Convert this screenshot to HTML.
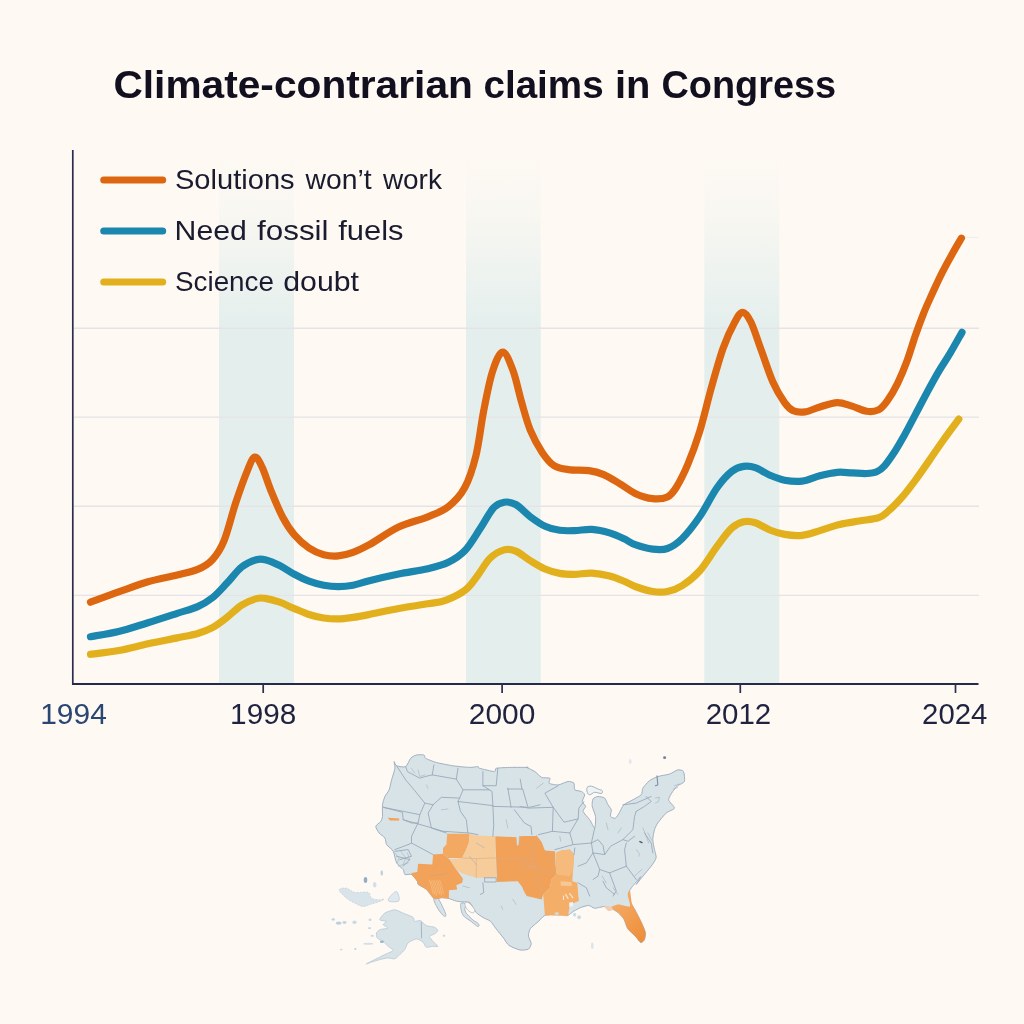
<!DOCTYPE html>
<html lang="en"><head><meta charset="utf-8"><title>Climate-contrarian claims in Congress</title>
<style>
html,body{margin:0;padding:0;background:#fef9f3;}
body{width:1024px;height:1024px;overflow:hidden;}
svg{display:block;font-family:"Liberation Sans",sans-serif;}
</style></head><body>
<svg width="1024" height="1024" viewBox="0 0 1024 1024">
<defs>
<linearGradient id="bandg" x1="0" y1="150" x2="0" y2="684" gradientUnits="userSpaceOnUse">
<stop offset="0" stop-color="#e4efed" stop-opacity="0"/>
<stop offset="0.12" stop-color="#e4efed" stop-opacity="0.22"/>
<stop offset="0.33" stop-color="#e4efed" stop-opacity="1"/>
<stop offset="1" stop-color="#e4efed" stop-opacity="1"/>
</linearGradient>
</defs>
<rect width="1024" height="1024" fill="#fef9f3"/>

<rect x="219" y="150" width="75.0" height="534" fill="url(#bandg)"/>
<rect x="466" y="150" width="74.7" height="534" fill="url(#bandg)"/>
<rect x="704.3" y="150" width="75.0" height="534" fill="url(#bandg)"/>
<line x1="74" x2="979" y1="328.2" y2="328.2" stroke="#e5e3e5" stroke-width="1.4"/>
<line x1="74" x2="979" y1="417.1" y2="417.1" stroke="#e5e3e5" stroke-width="1.4"/>
<line x1="74" x2="979" y1="506.2" y2="506.2" stroke="#e5e3e5" stroke-width="1.4"/>
<line x1="74" x2="979" y1="595.4" y2="595.4" stroke="#e5e3e5" stroke-width="1.4"/>
<line x1="965" x2="979" y1="237.4" y2="237.4" stroke="#f1eeea" stroke-width="1.2"/>
<text y="97.8" font-size="38" font-weight="bold" fill="#12101f"><tspan x="113.43" textLength="359.44" lengthAdjust="spacingAndGlyphs">Climate-contrarian</tspan> <tspan x="483.48" textLength="120.17" lengthAdjust="spacingAndGlyphs">claims</tspan> <tspan x="614.9" textLength="35.42" lengthAdjust="spacingAndGlyphs">in</tspan> <tspan x="661.5" textLength="174.63" lengthAdjust="spacingAndGlyphs">Congress</tspan></text>
<line x1="103.8" x2="162.6" y1="180" y2="180" stroke="#dd6610" stroke-width="7.2" stroke-linecap="round"/>
<text y="189.2" font-size="28" fill="#1a1b2e"><tspan x="174.96" textLength="119.68" lengthAdjust="spacingAndGlyphs">Solutions</tspan> <tspan x="305.51" textLength="66.07" lengthAdjust="spacingAndGlyphs">won’t</tspan> <tspan x="382.9" textLength="59.0" lengthAdjust="spacingAndGlyphs">work</tspan></text>
<line x1="103.8" x2="162.6" y1="231" y2="231" stroke="#1b86ae" stroke-width="7.2" stroke-linecap="round"/>
<text y="240.2" font-size="28" fill="#1a1b2e"><tspan x="174.64" textLength="72.26" lengthAdjust="spacingAndGlyphs">Need</tspan> <tspan x="257.0" textLength="71.57" lengthAdjust="spacingAndGlyphs">fossil</tspan> <tspan x="338.2" textLength="65.3" lengthAdjust="spacingAndGlyphs">fuels</tspan></text>
<line x1="103.8" x2="162.6" y1="282" y2="282" stroke="#e2b01c" stroke-width="7.2" stroke-linecap="round"/>
<text y="291.2" font-size="28" fill="#1a1b2e"><tspan x="175.01" textLength="98.96" lengthAdjust="spacingAndGlyphs">Science</tspan> <tspan x="283.22" textLength="75.74" lengthAdjust="spacingAndGlyphs">doubt</tspan></text>
<path d="M90.5,654.3C95.2,653.7 109.0,652.2 118.6,650.5C128.2,648.8 138.1,645.9 147.9,643.8C157.7,641.7 168.9,639.6 177.2,637.9C185.5,636.2 191.8,635.2 197.7,633.5C203.6,631.8 207.5,630.4 212.4,627.7C217.3,625.0 222.1,621.2 227.0,617.4C231.9,613.6 236.8,608.2 241.7,605.1C246.6,602.0 252.4,599.7 256.3,598.6C260.2,597.5 261.2,597.8 265.1,598.4C269.0,599.0 274.8,600.5 279.7,602.2C284.6,603.9 289.5,606.6 294.4,608.6C299.3,610.6 304.1,612.9 309.0,614.5C313.9,616.1 318.8,617.3 323.7,618.0C328.6,618.7 333.4,619.0 338.3,618.9C343.2,618.8 347.8,618.1 353.0,617.4C358.2,616.7 361.7,616.0 369.3,614.5C376.9,613.0 388.8,610.3 398.6,608.5C408.4,606.7 420.0,605.2 427.9,603.8C435.8,602.4 439.9,602.5 446.2,600.1C452.5,597.7 460.6,593.7 465.8,589.6C471.0,585.5 473.5,580.9 477.5,575.7C481.5,570.5 485.6,562.6 490.0,558.3C494.4,554.0 499.8,551.1 504.1,549.9C508.4,548.7 511.4,549.3 515.8,551.1C520.2,552.9 525.5,557.8 530.4,560.8C535.3,563.8 540.2,566.9 545.1,569.0C550.0,571.1 554.8,572.5 559.7,573.4C564.6,574.3 569.0,574.3 574.4,574.3C579.8,574.2 586.1,572.8 592.0,573.1C597.9,573.4 604.2,574.6 609.6,576.0C615.0,577.4 619.9,579.5 624.2,581.3C628.5,583.0 630.5,584.8 635.2,586.5C640.0,588.2 647.3,590.7 652.7,591.5C658.1,592.3 662.5,592.5 667.4,591.5C672.3,590.5 676.6,589.1 682.0,585.7C687.4,582.3 693.7,577.6 699.6,571.0C705.5,564.4 711.8,553.3 717.2,546.1C722.6,538.9 727.4,532.0 731.8,528.0C736.2,524.0 739.7,522.7 743.6,521.8C747.5,520.9 750.9,521.3 755.3,522.7C759.7,524.1 765.0,528.0 769.9,530.0C774.8,532.0 779.2,533.5 784.6,534.4C790.0,535.3 796.3,535.9 802.2,535.3C808.1,534.7 813.6,532.4 819.8,530.6C826.0,528.8 833.0,526.1 839.6,524.5C846.2,522.9 852.7,522.1 859.2,521.0C865.7,519.9 873.8,519.4 878.7,517.7C883.6,516.0 884.6,514.3 888.5,510.9C892.4,507.5 897.6,502.4 902.1,497.2C906.6,492.0 911.2,485.8 915.8,479.6C920.4,473.4 925.0,466.6 929.5,460.1C934.0,453.6 938.2,447.3 943.1,440.5C948.0,433.7 956.2,422.7 958.8,419.1" fill="none" stroke="#e2b01c" stroke-width="7.2" stroke-linecap="round" stroke-linejoin="round"/>
<path d="M90.5,636.7C95.2,635.8 109.0,633.8 118.6,631.5C128.2,629.2 138.1,625.7 147.9,622.7C157.7,619.7 168.9,616.0 177.2,613.3C185.5,610.6 191.8,609.2 197.7,606.6C203.6,604.0 207.5,601.7 212.4,597.8C217.3,593.9 222.1,588.2 227.0,583.1C231.9,578.0 236.8,570.9 241.7,567.0C246.6,563.1 252.4,560.9 256.3,559.7C260.2,558.5 261.2,558.7 265.1,559.7C269.0,560.7 274.8,563.1 279.7,565.5C284.6,567.9 289.5,571.7 294.4,574.3C299.3,576.9 304.1,579.3 309.0,581.1C313.9,582.9 318.8,584.3 323.7,585.2C328.6,586.1 333.4,586.6 338.3,586.6C343.2,586.6 347.8,586.2 353.0,585.2C358.2,584.2 361.7,582.6 369.3,580.7C376.9,578.8 388.8,576.0 398.6,574.0C408.4,572.0 419.6,570.7 427.9,568.7C436.2,566.7 442.2,565.2 448.4,562.2C454.6,559.2 459.7,556.1 465.0,550.5C470.3,544.9 475.5,535.6 480.2,528.5C484.9,521.4 489.4,512.4 493.4,508.0C497.4,503.6 500.4,502.8 504.1,502.2C507.8,501.6 511.4,502.1 515.8,504.5C520.2,506.9 525.5,513.2 530.4,516.8C535.3,520.4 540.2,524.0 545.1,526.2C550.0,528.5 554.8,529.6 559.7,530.3C564.6,531.0 569.0,530.8 574.4,530.6C579.8,530.5 586.1,529.0 592.0,529.4C597.9,529.8 604.2,531.3 609.6,532.9C615.0,534.5 619.9,536.8 624.2,538.8C628.5,540.8 630.5,543.0 635.2,544.7C640.0,546.4 647.3,548.5 652.7,549.1C658.1,549.7 662.5,550.2 667.4,548.5C672.3,546.8 676.6,544.1 682.0,538.8C687.4,533.5 693.7,525.3 699.6,516.8C705.5,508.2 711.8,495.1 717.2,487.5C722.6,479.9 727.4,474.9 731.8,471.4C736.2,467.9 739.7,467.0 743.6,466.4C747.5,465.8 750.9,466.1 755.3,467.6C759.7,469.1 765.0,473.1 769.9,475.2C774.8,477.3 779.2,479.2 784.6,480.2C790.0,481.2 796.3,481.8 802.2,481.1C808.1,480.4 813.9,477.3 819.8,475.8C825.6,474.3 831.9,472.8 837.3,472.3C842.7,471.8 847.1,472.7 852.0,472.9C856.9,473.1 862.5,473.7 866.6,473.5C870.7,473.3 873.7,473.1 876.7,471.8C879.7,470.5 881.6,469.1 884.5,465.9C887.4,462.6 891.0,457.3 894.3,452.3C897.6,447.3 900.6,441.9 904.1,435.7C907.6,429.5 911.4,422.1 915.2,414.9C919.0,407.7 923.0,399.9 926.9,392.7C930.8,385.5 934.7,378.2 938.6,371.6C942.5,365.0 946.4,359.4 950.3,352.8C954.2,346.2 960.0,335.7 962.0,332.3" fill="none" stroke="#1b86ae" stroke-width="7.2" stroke-linecap="round" stroke-linejoin="round"/>
<path d="M90.5,602.2C95.2,600.5 109.0,595.3 118.6,591.9C128.2,588.5 138.1,584.5 147.9,581.7C157.7,578.9 168.9,577.0 177.2,574.9C185.5,572.8 191.8,571.9 197.7,569.4C203.6,566.9 208.0,564.5 212.4,559.7C216.8,554.9 220.2,550.1 224.1,540.6C228.0,531.1 231.9,514.2 235.8,502.5C239.7,490.8 244.3,477.9 247.5,470.3C250.7,462.7 252.4,457.6 254.8,457.1C257.2,456.6 259.5,461.8 262.2,467.4C264.9,473.0 267.6,482.5 271.0,490.8C274.4,499.1 278.8,509.9 282.7,517.2C286.6,524.5 290.0,529.7 294.4,534.8C298.8,539.9 304.1,544.7 309.0,548.0C313.9,551.3 318.8,553.4 323.7,554.7C328.6,556.0 333.4,556.3 338.3,555.9C343.2,555.5 347.8,554.3 353.0,552.4C358.2,550.5 361.7,548.9 369.3,544.7C376.9,540.5 388.8,531.8 398.6,527.1C408.4,522.5 419.6,520.2 427.9,516.8C436.2,513.4 442.2,511.5 448.4,506.6C454.5,501.7 460.2,496.1 464.8,487.5C469.4,478.9 472.9,468.0 476.0,455.3C479.1,442.6 480.9,425.2 483.6,411.3C486.3,397.4 489.2,381.7 492.4,371.8C495.6,361.9 499.2,352.4 502.6,352.2C506.0,351.9 509.7,361.9 512.9,370.3C516.1,378.7 518.8,392.6 521.7,402.6C524.6,412.6 527.0,422.1 530.4,430.4C533.8,438.7 538.3,446.5 542.2,452.4C546.1,458.2 549.5,462.6 553.9,465.5C558.3,468.4 562.6,468.8 568.5,469.6C574.4,470.5 583.1,469.8 589.0,470.6C594.9,471.4 598.3,472.3 603.7,474.6C609.1,476.9 616.0,481.5 621.3,484.6C626.5,487.7 630.0,491.0 635.2,493.4C640.4,495.8 647.3,498.1 652.7,498.7C658.1,499.3 663.5,498.8 667.4,496.9C671.3,495.0 672.8,493.0 676.2,487.5C679.6,482.0 684.0,473.4 687.9,464.1C691.8,454.8 695.7,444.5 699.6,431.8C703.5,419.1 707.4,401.8 711.3,387.9C715.2,374.0 719.2,359.3 723.1,348.3C727.0,337.3 731.5,328.0 734.8,322.0C738.1,316.0 740.0,312.3 742.7,312.3C745.4,312.3 747.8,315.8 750.9,322.0C754.0,328.2 757.4,339.8 761.1,349.8C764.8,359.8 769.0,373.2 772.9,382.0C776.8,390.8 781.2,397.8 784.6,402.6C788.0,407.4 790.0,409.2 793.4,410.8C796.8,412.4 800.7,412.5 805.1,411.9C809.5,411.3 814.4,408.6 819.8,407.0C825.2,405.4 831.9,402.8 837.3,402.6C842.7,402.5 847.1,404.7 852.0,406.1C856.9,407.6 862.2,410.7 866.6,411.3C871.0,411.9 875.0,411.6 878.4,409.9C881.8,408.2 883.9,405.5 887.1,401.1C890.3,396.7 894.3,390.0 897.6,383.3C900.9,376.6 904.1,368.9 907.0,361.0C909.9,353.1 912.5,343.9 915.2,336.0C917.9,328.1 920.7,320.6 923.4,313.8C926.1,307.0 928.7,301.4 931.6,295.0C934.5,288.6 937.8,281.4 940.9,275.1C944.0,268.9 946.9,263.6 950.3,257.5C953.7,251.3 959.5,241.4 961.4,238.2" fill="none" stroke="#dd6610" stroke-width="7.2" stroke-linecap="round" stroke-linejoin="round"/>
<line x1="72.8" x2="72.8" y1="150" y2="684.8" stroke="#2b2e50" stroke-width="1.7"/>
<line x1="72" x2="978.5" y1="684" y2="684" stroke="#262a4b" stroke-width="1.8"/>
<line x1="263.2" x2="263.2" y1="684" y2="693" stroke="#2b2e50" stroke-width="1.7"/>
<line x1="502.1" x2="502.1" y1="684" y2="693" stroke="#2b2e50" stroke-width="1.7"/>
<line x1="740.3" x2="740.3" y1="684" y2="693" stroke="#2b2e50" stroke-width="1.7"/>
<line x1="955.5" x2="955.5" y1="684" y2="693" stroke="#2b2e50" stroke-width="1.7"/>
<text x="40.22" y="724.2" font-size="28.8" fill="#2a4672" textLength="66.6" lengthAdjust="spacingAndGlyphs">1994</text>
<text x="230.14" y="724.2" font-size="28.8" fill="#1f2340" textLength="66.11" lengthAdjust="spacingAndGlyphs">1998</text>
<text x="468.86" y="724.2" font-size="28.8" fill="#1f2340" textLength="66.49" lengthAdjust="spacingAndGlyphs">2000</text>
<text x="705.68" y="724.2" font-size="28.8" fill="#1f2340" textLength="65.56" lengthAdjust="spacingAndGlyphs">2012</text>
<text x="922.08" y="724.2" font-size="28.8" fill="#1f2340" textLength="65.23" lengthAdjust="spacingAndGlyphs">2024</text>
<g id="usmap">
<path d="M394.1,761.6C394.3,761.3 395.2,765.2 396.6,765.8C397.9,766.4 404.0,767.5 405.7,766.6C407.3,765.7 409.4,759.7 410.7,758.3C411.9,756.9 414.9,755.4 416.5,755.0C418.0,754.6 422.9,754.6 424.0,755.0C425.0,755.4 424.2,757.4 425.6,758.3C427.1,759.2 433.2,761.6 436.4,762.5C439.6,763.3 449.1,765.2 453.0,765.8C456.9,766.4 466.7,767.3 469.6,767.4C472.5,767.5 476.7,766.5 477.9,766.6C479.1,766.7 477.6,767.7 479.6,768.3C481.5,768.8 492.6,771.6 494.5,771.6C496.4,771.6 494.2,768.7 496.2,768.3C498.1,767.8 507.4,767.5 511.1,767.4C514.8,767.3 525.9,767.4 527.7,767.4C529.5,767.4 525.8,766.9 526.6,767.4C527.5,767.9 533.2,770.4 534.9,771.6C536.7,772.7 539.8,776.6 541.6,777.4C543.3,778.2 549.0,777.5 549.9,778.2C550.8,778.9 548.1,782.4 549.1,783.2C550.0,784.0 556.0,785.1 558.2,784.9C560.4,784.7 566.3,781.7 568.1,781.5C570.0,781.3 573.2,782.2 574.0,783.2C574.7,784.2 573.9,788.9 574.8,789.8C575.7,790.8 580.3,790.9 581.4,791.5C582.6,792.1 584.6,793.7 584.7,794.8C584.8,796.0 582.2,800.1 582.3,801.5C582.4,802.8 585.5,805.3 585.6,806.4C585.7,807.6 582.6,809.9 583.1,811.4C583.6,813.0 588.4,817.8 589.7,819.7C591.1,821.7 594.0,828.4 594.7,828.0C595.4,827.6 595.8,818.9 595.5,816.4C595.2,813.9 592.5,808.5 592.2,806.4C591.9,804.4 592.4,800.1 593.0,799.0C593.7,797.8 596.7,796.6 598.0,796.5C599.4,796.4 603.5,797.2 604.7,798.1C605.8,799.1 607.2,803.4 608.0,804.8C608.8,806.1 611.0,808.4 611.3,809.8C611.6,811.1 610.0,815.4 610.5,816.4C611.0,817.4 614.4,818.6 615.5,818.1C616.5,817.6 618.6,813.8 619.6,812.3C620.6,810.7 622.2,806.2 623.8,804.8C625.3,803.3 630.9,801.0 632.9,799.8C634.9,798.6 640.0,796.2 641.2,794.8C642.4,793.5 641.9,789.8 642.9,788.2C643.8,786.5 647.7,782.1 649.5,780.7C651.2,779.4 655.5,777.3 657.8,776.6C660.1,775.8 667.1,774.8 669.4,774.1C671.7,773.3 676.1,770.2 677.7,769.9C679.4,769.6 682.8,770.2 683.5,771.6C684.3,772.9 685.0,779.9 684.4,781.5C683.7,783.2 679.1,784.5 677.7,785.7C676.4,786.9 673.8,789.9 672.7,791.5C671.7,793.2 668.4,797.9 668.6,799.8C668.8,801.7 674.7,806.6 674.4,808.1C674.1,809.7 668.0,811.3 666.1,813.1C664.2,814.8 659.1,821.1 657.8,823.0C656.4,825.0 655.1,827.8 654.5,829.7C653.9,831.6 652.8,837.3 652.8,839.6C652.8,842.0 654.1,847.5 654.5,849.6C654.9,851.7 656.5,856.0 656.1,857.9C655.7,859.8 652.7,864.1 651.2,866.2C649.6,868.3 644.6,874.0 642.9,876.2C641.1,878.3 636.5,884.4 636.2,884.5C636.0,884.5 641.3,876.3 640.7,876.7C640.2,877.1 632.8,885.9 631.4,887.8C630.0,889.8 628.8,891.7 628.7,893.4C628.5,895.1 629.8,900.7 630.5,902.7C631.3,904.6 634.0,907.9 635.2,910.1C636.3,912.3 639.5,918.6 640.7,921.2C641.9,923.8 644.9,930.2 645.4,932.4C645.8,934.5 645.0,938.6 644.4,939.8C643.9,941.0 641.8,943.0 640.7,942.6C639.6,942.1 636.7,937.7 635.2,936.1C633.6,934.5 629.0,930.6 627.7,928.7C626.4,926.7 625.1,921.2 624.0,919.4C622.9,917.5 620.0,914.2 618.5,912.9C616.9,911.6 612.5,909.0 611.0,908.2C609.5,907.5 606.8,906.5 605.5,906.4C604.2,906.3 601.2,907.1 599.9,907.3C598.6,907.5 595.6,908.5 594.3,908.2C593.0,908.0 590.3,905.6 588.8,905.5C587.2,905.4 583.1,906.7 581.3,907.3C579.6,908.0 575.2,910.3 573.9,911.0C572.6,911.8 571.1,913.3 570.2,913.8C569.3,914.4 568.0,915.8 566.5,915.7C565.0,915.6 559.2,913.0 557.2,912.9C555.3,912.8 551.3,914.4 549.8,914.7C548.3,915.1 545.5,914.9 544.2,915.7C542.9,916.4 540.3,919.7 538.7,921.2C537.0,922.8 531.5,926.9 530.3,928.7C529.1,930.4 528.3,934.3 528.5,936.1C528.6,937.8 531.2,942.0 531.2,943.5C531.2,945.0 529.8,948.3 528.5,949.1C527.2,949.8 522.4,950.4 520.1,950.0C517.8,949.6 510.9,946.8 509.0,945.4C507.0,944.0 504.9,939.9 503.4,937.9C501.9,936.0 497.5,930.6 496.0,928.7C494.5,926.7 491.9,922.5 490.4,921.2C488.9,919.9 484.7,918.6 483.0,917.5C481.3,916.4 477.1,913.7 475.6,912.0C474.1,910.2 471.5,903.9 470.0,902.7C468.5,901.5 464.6,902.1 463.0,901.9C461.4,901.7 458.0,901.5 456.3,901.1C454.7,900.7 450.6,899.0 448.9,898.6C447.1,898.2 442.9,897.7 441.4,897.8C439.8,897.9 436.5,899.4 435.6,899.4C434.6,899.4 434.2,898.9 433.1,897.8C432.0,896.6 428.2,891.0 426.4,889.5C424.7,887.9 419.2,885.4 418.1,884.5C417.1,883.5 418.1,882.3 417.3,881.2C416.5,880.0 413.0,875.3 411.5,874.5C410.1,873.7 405.8,875.1 404.9,874.5C403.9,873.9 404.2,870.9 403.2,869.5C402.2,868.2 397.7,865.0 396.6,862.9C395.4,860.8 394.4,853.4 393.2,851.3C392.1,849.1 387.6,846.2 386.6,844.6C385.6,843.1 385.8,839.3 384.9,838.0C384.1,836.6 380.2,834.4 379.1,833.0C378.1,831.7 375.6,827.7 375.8,826.4C376.0,825.0 380.0,822.5 380.8,821.4C381.6,820.2 382.3,818.3 382.5,816.4C382.6,814.5 382.2,807.1 382.5,804.8C382.7,802.5 384.2,798.2 384.9,796.5C385.7,794.7 388.3,791.8 389.1,789.8C389.9,787.9 390.9,782.4 391.6,779.9C392.3,777.4 394.6,770.4 394.9,768.3C395.2,766.1 393.9,761.9 394.1,761.6Z" fill="#d7e3e6" stroke="#9aa9bb" stroke-width="0.9" stroke-linejoin="round"/>
<path d="M433.8,899.0C434.0,897.8 436.0,895.8 437.9,898.2C439.8,900.5 444.3,910.1 445.4,913.1C446.5,916.2 445.4,916.6 444.6,916.4C443.7,916.3 441.8,914.1 440.4,912.3C439.0,910.5 437.4,907.9 436.3,905.7C435.1,903.4 433.5,900.3 433.8,899.0Z" fill="#d7e3e6" stroke="#9aa9bb" stroke-width="0.8"/>
<path d="M460.8,903.5C460.2,905.2 461.1,911.8 462.8,914.8C464.5,917.8 468.6,919.5 471.1,921.4C473.6,923.4 476.5,926.0 477.8,926.4C479.0,926.8 479.4,925.0 478.6,923.9C477.8,922.8 474.8,921.5 472.8,919.8C470.8,918.0 467.8,915.3 466.5,913.5C465.1,911.6 464.8,910.0 464.8,908.5C464.8,907.0 467.1,905.3 466.5,904.5C465.8,903.7 461.4,901.8 460.8,903.5Z" fill="#d7e3e6" stroke="#9aa9bb" stroke-width="0.8"/>
<path d="M464.8,903.5C465.0,902.3 467.0,901.8 468.6,902.8C470.3,903.9 474.1,908.1 474.8,909.8C475.5,911.5 474.0,912.8 472.8,912.8C471.6,912.8 468.8,911.4 467.5,909.8C466.1,908.3 464.6,904.7 464.8,903.5Z" fill="#fef9f3" stroke="#9aa9bb" stroke-width="0.6"/>
<path d="M411.5,872.9L417.3,872.0L418.1,863.7L432.3,864.6L433.1,854.6L443.0,853.8L449.7,859.6L456.3,869.5L463.0,878.7L462.1,882.8L456.3,885.3L457.2,889.5L448.9,890.3L448.9,898.6L441.4,897.8L435.6,899.4L433.1,897.8L426.4,889.5L418.1,884.5L417.3,881.2L411.5,874.5Z" fill="#f2a259" />
<path d="M447.2,833.8L469.6,833.8L468.8,843.0L466.3,849.6L462.1,857.9L448.0,857.9L443.0,853.8L443.0,847.9L446.4,844.6Z" fill="#f3a962" />
<path d="M469.6,833.8L476.3,835.5L495.3,836.3L496.2,877.8L476.3,877.8L463.0,873.7L456.3,869.5L449.7,859.6L462.1,857.9L466.3,849.6L468.8,843.0Z" fill="#f6cc9a" />
<path d="M495.3,836.3L516.1,837.2L516.9,845.5L518.8,845.5L519.4,836.3L536.8,835.5L536.6,835.5L541.6,842.1L544.9,850.4L554.9,851.3L555.7,866.2L556.5,874.5L551.5,879.5L549.9,887.8L543.2,894.4L541.6,899.4L526.6,896.1L520.0,882.8L526.1,896.1L522.7,887.8L517.8,881.2L497.0,882.0Z" fill="#f1a158" />
<path d="M555.7,852.9L561.5,850.4L569.8,849.6L574.0,854.6L573.1,869.5L572.3,881.2L577.3,882.8L578.1,892.8L578.9,901.1L569.8,904.4L568.1,916.0L544.9,915.2L543.2,894.4L549.9,887.8L551.5,879.5L556.5,874.5Z" fill="#f4ae68" />
<path d="M555.7,852.9L561.5,850.4L569.8,849.6L574.0,854.6L573.1,869.5L569.8,876.2L556.5,874.5Z" fill="#f5ba7c" />
<defs><linearGradient id="flg" x1="612" y1="905" x2="645" y2="942" gradientUnits="userSpaceOnUse"><stop offset="0" stop-color="#f4aa66"/><stop offset="1" stop-color="#ee8c36"/></linearGradient></defs>
<path d="M611.0,907.3C611.0,906.5 616.6,904.6 618.5,904.5C620.3,904.4 629.0,907.4 630.0,906.4C630.9,905.4 627.7,895.9 627.7,894.3C627.7,892.8 629.5,889.8 630.0,890.6C630.4,891.5 631.2,900.5 631.8,902.7C632.4,904.8 635.1,910.0 636.1,912.0C637.1,913.9 640.7,920.1 641.6,922.2C642.6,924.2 645.1,930.6 645.4,932.4C645.6,934.1 644.9,938.8 644.4,939.8C644.0,940.8 641.6,942.9 640.7,942.6C639.8,942.2 636.5,937.5 635.2,936.1C633.9,934.7 628.8,930.3 627.7,928.7C626.6,927.0 624.9,921.0 624.0,919.4C623.1,917.8 619.7,914.1 618.5,912.9C617.2,911.7 611.0,908.2 611.0,907.3Z" fill="url(#flg)" />
<path d="M604.0,906.0C604.3,905.6 610.1,906.4 611.0,906.8C611.9,907.2 613.2,909.7 612.9,910.1C612.6,910.5 609.1,911.4 608.2,911.0C607.4,910.6 603.7,906.4 604.0,906.0Z" fill="#f3cdb0" />
<path d="M387.9,817.7L399.1,818.4L399.1,820.6L389.9,820.6Z" fill="#f1a158" />
<path d="M569.0,902.7L572.8,901.9L573.5,906.1L569.5,906.9Z" fill="#eef4f6" />
<path d="M405.7,766.6L407.4,771.6L419.8,778.2L424.8,776.6L432.3,774.9L433.9,764.9" fill="none" stroke="#9aa9bb" stroke-width="0.9" stroke-linejoin="round" stroke-linecap="round" opacity="1"/>
<path d="M432.3,774.9L456.3,779.1L458.0,768.3" fill="none" stroke="#9aa9bb" stroke-width="0.9" stroke-linejoin="round" stroke-linecap="round" opacity="1"/>
<path d="M456.3,779.1L463.0,789.8L459.6,798.1L441.4,797.3L433.1,804.8L424.8,803.1" fill="none" stroke="#9aa9bb" stroke-width="0.9" stroke-linejoin="round" stroke-linecap="round" opacity="1"/>
<path d="M396.6,765.8L405.7,779.9L414.8,790.7L424.8,803.1L419.8,814.7L383.3,807.3" fill="none" stroke="#9aa9bb" stroke-width="0.9" stroke-linejoin="round" stroke-linecap="round" opacity="1"/>
<path d="M463.0,789.8L489.5,789.8L482.9,785.7L482.9,771.6" fill="none" stroke="#9aa9bb" stroke-width="0.9" stroke-linejoin="round" stroke-linecap="round" opacity="1"/>
<path d="M482.9,785.7L496.2,785.7L497.8,768.3" fill="none" stroke="#9aa9bb" stroke-width="0.9" stroke-linejoin="round" stroke-linecap="round" opacity="1"/>
<path d="M459.6,798.1L458.0,801.5L492.9,805.6L492.0,791.5L489.5,789.8" fill="none" stroke="#9aa9bb" stroke-width="0.9" stroke-linejoin="round" stroke-linecap="round" opacity="1"/>
<path d="M458.0,801.5L460.5,811.4L466.3,819.7L467.9,833.0" fill="none" stroke="#9aa9bb" stroke-width="0.9" stroke-linejoin="round" stroke-linecap="round" opacity="1"/>
<path d="M492.9,805.6L493.7,824.7L492.9,836.3" fill="none" stroke="#9aa9bb" stroke-width="0.9" stroke-linejoin="round" stroke-linecap="round" opacity="1"/>
<path d="M492.9,806.4L529.4,807.3L540.0,804.8" fill="none" stroke="#9aa9bb" stroke-width="0.9" stroke-linejoin="round" stroke-linecap="round" opacity="1"/>
<path d="M507.8,788.2L511.1,807.3" fill="none" stroke="#9aa9bb" stroke-width="0.9" stroke-linejoin="round" stroke-linecap="round" opacity="1"/>
<path d="M507.8,789.0L522.7,789.0L527.7,806.4" fill="none" stroke="#9aa9bb" stroke-width="0.9" stroke-linejoin="round" stroke-linecap="round" opacity="1"/>
<path d="M514.4,809.8L524.4,823.0L531.0,826.4L531.9,834.7" fill="none" stroke="#9aa9bb" stroke-width="0.9" stroke-linejoin="round" stroke-linecap="round" opacity="1"/>
<path d="M433.1,804.8L428.1,813.1L431.4,828.0L446.4,833.0" fill="none" stroke="#9aa9bb" stroke-width="0.9" stroke-linejoin="round" stroke-linecap="round" opacity="1"/>
<path d="M419.8,814.7L418.1,823.0L411.5,836.3L411.5,843.0L408.2,844.6" fill="none" stroke="#9aa9bb" stroke-width="0.9" stroke-linejoin="round" stroke-linecap="round" opacity="1"/>
<path d="M383.3,807.3L402.4,812.3L403.2,819.7L411.5,823.0L418.1,823.0" fill="none" stroke="#9aa9bb" stroke-width="0.9" stroke-linejoin="round" stroke-linecap="round" opacity="1"/>
<path d="M403.2,819.7L432.3,828.0L443.0,831.3L469.6,833.0L477.9,834.7" fill="none" stroke="#9aa9bb" stroke-width="0.9" stroke-linejoin="round" stroke-linecap="round" opacity="1"/>
<path d="M411.5,843.0L433.1,854.6" fill="none" stroke="#9aa9bb" stroke-width="0.9" stroke-linejoin="round" stroke-linecap="round" opacity="1"/>
<path d="M408.2,844.6L394.9,849.6" fill="none" stroke="#9aa9bb" stroke-width="0.9" stroke-linejoin="round" stroke-linecap="round" opacity="1"/>
<path d="M520.2,779.1L521.9,789.0" fill="none" stroke="#9aa9bb" stroke-width="0.9" stroke-linejoin="round" stroke-linecap="round" opacity="1"/>
<path d="M394.9,851.3L408.2,849.6L411.5,856.3L399.9,859.6" fill="none" stroke="#9aa9bb" stroke-width="0.9" stroke-linejoin="round" stroke-linecap="round" opacity="1"/>
<path d="M396.6,856.3L409.8,859.6L403.2,866.2" fill="none" stroke="#9aa9bb" stroke-width="0.9" stroke-linejoin="round" stroke-linecap="round" opacity="1"/>
<path d="M484.6,877.8L496.2,877.8L496.2,882.0L484.6,882.0L484.6,877.8" fill="none" stroke="#9aa9bb" stroke-width="0.9" stroke-linejoin="round" stroke-linecap="round" opacity="1"/>
<path d="M482.9,882.8L483.7,892.8L480.4,894.4" fill="none" stroke="#9aa9bb" stroke-width="0.9" stroke-linejoin="round" stroke-linecap="round" opacity="1"/>
<path d="M520.0,806.4L528.3,808.1L553.2,807.3L544.9,793.2L558.2,785.7" fill="none" stroke="#9aa9bb" stroke-width="0.9" stroke-linejoin="round" stroke-linecap="round" opacity="1"/>
<path d="M553.2,807.3L564.0,822.2L578.1,818.9L578.9,808.1L583.9,801.5" fill="none" stroke="#9aa9bb" stroke-width="0.9" stroke-linejoin="round" stroke-linecap="round" opacity="1"/>
<path d="M553.2,807.3L552.4,831.3L538.3,834.7" fill="none" stroke="#9aa9bb" stroke-width="0.9" stroke-linejoin="round" stroke-linecap="round" opacity="1"/>
<path d="M552.4,831.3L569.8,833.0L578.1,818.9" fill="none" stroke="#9aa9bb" stroke-width="0.9" stroke-linejoin="round" stroke-linecap="round" opacity="1"/>
<path d="M569.8,833.0L573.1,844.6L591.4,843.0L594.7,828.0" fill="none" stroke="#9aa9bb" stroke-width="0.9" stroke-linejoin="round" stroke-linecap="round" opacity="1"/>
<path d="M591.4,843.0L598.0,839.6L603.0,845.5L604.7,854.6L593.0,852.9L591.4,843.0" fill="none" stroke="#9aa9bb" stroke-width="0.9" stroke-linejoin="round" stroke-linecap="round" opacity="1"/>
<path d="M604.7,854.6L610.5,846.3L622.9,839.6L632.9,829.7L634.6,816.4L636.2,811.4" fill="none" stroke="#9aa9bb" stroke-width="0.9" stroke-linejoin="round" stroke-linecap="round" opacity="1"/>
<path d="M593.0,852.9L586.4,862.9L578.1,866.2" fill="none" stroke="#9aa9bb" stroke-width="0.9" stroke-linejoin="round" stroke-linecap="round" opacity="1"/>
<path d="M593.0,852.9L599.7,869.5L598.0,876.2L593.0,879.5" fill="none" stroke="#9aa9bb" stroke-width="0.9" stroke-linejoin="round" stroke-linecap="round" opacity="1"/>
<path d="M599.7,869.5L609.6,872.9L626.3,866.2L624.6,849.6L626.3,843.0" fill="none" stroke="#9aa9bb" stroke-width="0.9" stroke-linejoin="round" stroke-linecap="round" opacity="1"/>
<path d="M609.6,872.9L616.3,891.1L613.0,896.1" fill="none" stroke="#9aa9bb" stroke-width="0.9" stroke-linejoin="round" stroke-linecap="round" opacity="1"/>
<path d="M626.3,866.2L636.2,879.5" fill="none" stroke="#9aa9bb" stroke-width="0.9" stroke-linejoin="round" stroke-linecap="round" opacity="1"/>
<path d="M622.9,839.6L627.9,841.3L634.6,836.3" fill="none" stroke="#9aa9bb" stroke-width="0.9" stroke-linejoin="round" stroke-linecap="round" opacity="1"/>
<path d="M636.2,811.4L644.5,806.4L651.2,801.5L646.2,796.5" fill="none" stroke="#9aa9bb" stroke-width="0.9" stroke-linejoin="round" stroke-linecap="round" opacity="1"/>
<path d="M622.9,804.8L636.2,803.1L651.2,796.5" fill="none" stroke="#9aa9bb" stroke-width="0.9" stroke-linejoin="round" stroke-linecap="round" opacity="1"/>
<path d="M644.5,833.0L651.2,843.0L652.8,852.9" fill="none" stroke="#9aa9bb" stroke-width="0.9" stroke-linejoin="round" stroke-linecap="round" opacity="1"/>
<path d="M578.1,882.8L586.4,887.8L589.7,896.1" fill="none" stroke="#9aa9bb" stroke-width="0.9" stroke-linejoin="round" stroke-linecap="round" opacity="1"/>
<path d="M603.0,881.2L606.3,887.8L614.6,894.4" fill="none" stroke="#9aa9bb" stroke-width="0.9" stroke-linejoin="round" stroke-linecap="round" opacity="1"/>
<path d="M573.1,844.6L554.9,849.6" fill="none" stroke="#9aa9bb" stroke-width="0.9" stroke-linejoin="round" stroke-linecap="round" opacity="1"/>
<path d="M574.8,847.9L574.0,854.6" fill="none" stroke="#9aa9bb" stroke-width="0.9" stroke-linejoin="round" stroke-linecap="round" opacity="1"/>
<path d="M657.0,775.7L657.8,784.9L655.3,785.7" fill="none" stroke="#7f8ea8" stroke-width="1.1" stroke-linejoin="round" stroke-linecap="round" opacity="1"/>
<path d="M639.9,841.6L642.0,842.6" fill="none" stroke="#4a5670" stroke-width="1.4" stroke-linejoin="round" stroke-linecap="round" opacity="1"/>
<path d="M536.6,835.5L531.6,849.6L534.1,866.2L556.5,874.5" fill="none" stroke="#d9a888" stroke-width="0.9" stroke-linejoin="round" stroke-linecap="round" opacity="0.8"/>
<path d="M520.0,859.6L536.6,869.5L541.6,891.1" fill="none" stroke="#d9a888" stroke-width="0.9" stroke-linejoin="round" stroke-linecap="round" opacity="0.8"/>
<path d="M520.0,867.9L530.0,866.2L536.6,869.5" fill="none" stroke="#d9a888" stroke-width="0.9" stroke-linejoin="round" stroke-linecap="round" opacity="0.8"/>
<path d="M544.9,850.4L554.9,866.2" fill="none" stroke="#d9a888" stroke-width="0.9" stroke-linejoin="round" stroke-linecap="round" opacity="0.8"/>
<path d="M497.0,859.6L536.0,859.6" fill="none" stroke="#d9a888" stroke-width="0.8" stroke-linejoin="round" stroke-linecap="round" opacity="0.7"/>
<path d="M516.1,837.2L516.9,845.5L518.8,845.5L519.4,836.3" fill="none" stroke="#d9a888" stroke-width="0.8" stroke-linejoin="round" stroke-linecap="round" opacity="0.7"/>
<path d="M462.1,857.9L476.3,858.7L496.2,857.9" fill="none" stroke="#d9a888" stroke-width="0.8" stroke-linejoin="round" stroke-linecap="round" opacity="0.7"/>
<path d="M476.3,858.7L476.3,877.8" fill="none" stroke="#d9a888" stroke-width="0.8" stroke-linejoin="round" stroke-linecap="round" opacity="0.7"/>
<path d="M587.2,787.4C587.9,786.3 589.6,785.9 591.4,786.2C593.2,786.5 596.2,788.3 598.0,789.0C599.8,789.8 601.6,789.9 602.2,790.7C602.7,791.4 602.6,793.2 601.3,793.5C600.1,793.8 596.6,792.1 594.7,792.3C592.8,792.6 591.0,794.8 589.7,794.8C588.5,794.8 587.7,793.6 587.2,792.3C586.8,791.1 586.5,788.4 587.2,787.4Z" fill="#eef3f4" stroke="#9aa9bb" stroke-width="0.9"/>
<path d="M384.8,913.1C386.5,912.0 392.6,909.8 394.7,909.8C396.9,909.8 400.9,912.3 403.0,913.1C405.2,914.0 411.7,916.3 413.0,917.3C414.4,918.2 413.8,921.0 414.7,921.4C415.5,921.8 419.1,920.1 420.5,920.6C421.8,921.1 424.6,924.8 426.3,925.6C427.9,926.4 433.2,926.7 434.6,927.2C435.9,927.8 437.9,929.8 437.9,930.6C437.9,931.3 435.6,933.2 434.6,933.9C433.6,934.6 429.8,935.5 429.6,936.4C429.4,937.2 432.0,940.2 432.9,941.3C433.9,942.5 437.9,945.7 437.9,946.3C437.9,946.9 434.3,946.2 432.9,946.3C431.6,946.4 427.5,947.6 426.3,947.2C425.1,946.7 424.1,943.1 423.0,942.2C421.8,941.2 418.1,938.8 416.3,938.9C414.6,939.0 409.4,941.7 408.0,943.0C406.7,944.3 405.7,948.3 404.7,949.6C403.7,951.0 400.9,953.6 399.7,954.6C398.6,955.7 396.1,958.4 394.7,958.8C393.4,959.2 389.8,957.9 388.1,957.9C386.4,958.0 381.7,959.1 379.8,959.6C377.9,960.1 373.1,961.6 371.5,962.1C370.0,962.6 365.0,964.6 366.5,963.8C368.1,962.9 381.7,956.2 384.8,954.6C387.9,953.1 392.7,951.4 393.1,950.5C393.5,949.5 389.3,947.4 388.1,946.3C386.9,945.3 384.4,942.3 383.1,941.3C381.9,940.4 378.1,939.0 377.3,938.0C376.5,937.1 376.2,934.0 376.5,933.0C376.8,932.1 378.4,930.3 379.8,929.7C381.2,929.1 387.7,928.6 388.1,928.1C388.5,927.5 383.3,925.5 383.1,924.7C382.9,924.0 386.8,922.0 386.4,921.4C386.1,920.8 380.0,920.7 379.8,919.8C379.6,918.8 383.0,914.3 384.8,913.1Z" fill="#d7e3e6" stroke="#b7c8d6" stroke-width="0.8"/>
<path d="M421.3,922.3L421.6,938.0" fill="none" stroke="#9db0c2" stroke-width="0.9" stroke-linejoin="round" stroke-linecap="round" opacity="1"/>
<path d="M339.1,889.9C339.1,888.2 344.0,887.8 346.6,888.2C349.2,888.6 351.3,891.7 354.9,892.4C358.5,893.1 365.4,891.4 368.2,892.4C371.0,893.3 369.6,896.9 371.5,898.2C373.4,899.4 377.7,899.7 379.8,899.8C381.9,900.0 384.0,898.7 384.0,899.0C384.0,899.3 381.9,900.7 379.8,901.5C377.7,902.3 374.3,903.2 371.5,904.0C368.7,904.8 366.0,906.6 363.2,906.5C360.4,906.3 357.7,904.5 354.9,903.2C352.1,901.8 349.2,900.4 346.6,898.2C344.0,896.0 339.1,891.5 339.1,889.9Z" fill="#cfdfe8" opacity="0.8" stroke="#b3c6d6" stroke-width="0.7" stroke-dasharray="2 1.2"/>
<path d="M396.4,891.5C398.1,892.0 400.0,899.0 398.9,900.7C397.8,902.3 391.4,901.9 389.8,901.5C388.1,901.1 387.8,899.8 388.9,898.2C390.0,896.5 394.7,891.1 396.4,891.5Z" fill="#dfe9ee" stroke="#b3c6d6" stroke-width="0.7"/>
<ellipse cx="365.5" cy="879.9" rx="1.8" ry="3.0" fill="#8aa5c0" opacity="0.9"/>
<ellipse cx="381.8" cy="873.0" rx="1.3" ry="2.7" fill="#bfd0de" opacity="1"/>
<ellipse cx="374.7" cy="884.7" rx="1.8" ry="2.7" fill="#d3e0ea" opacity="1"/>
<ellipse cx="333.3" cy="919.4" rx="1.7" ry="1.2" fill="#c3d4e2" opacity="1"/>
<ellipse cx="338.7" cy="923.1" rx="2.9" ry="1.7" fill="#bcd0df" opacity="1"/>
<ellipse cx="344.5" cy="922.5" rx="2.1" ry="1.4" fill="#c3d4e2" opacity="1"/>
<ellipse cx="354.5" cy="922.3" rx="2.1" ry="1.7" fill="#c9d9e5" opacity="1"/>
<ellipse cx="370.0" cy="919.8" rx="1.5" ry="1.3" fill="#c9d9e5" opacity="1"/>
<ellipse cx="369.5" cy="928.1" rx="1.7" ry="0.9" fill="#c3d4e2" opacity="1"/>
<ellipse cx="372.3" cy="935.9" rx="1.7" ry="0.8" fill="#c3d4e2" opacity="1"/>
<ellipse cx="368.3" cy="943.7" rx="5.1" ry="1.0" fill="#d3e0ea" opacity="1"/>
<ellipse cx="341.2" cy="949.6" rx="1.2" ry="0.8" fill="#c3d4e2" opacity="1"/>
<ellipse cx="355.3" cy="949.0" rx="1.2" ry="1.0" fill="#c3d4e2" opacity="1"/>
<ellipse cx="381.9" cy="941.8" rx="2.1" ry="1.2" fill="#9db7cc" opacity="1"/>
<ellipse cx="444.1" cy="935.7" rx="1.2" ry="1.0" fill="#c3d4e2" opacity="1"/>
<ellipse cx="664.6" cy="757.7" rx="1.5" ry="1.4" fill="#6d8198" opacity="1"/>
<ellipse cx="630.2" cy="761.6" rx="1.4" ry="2.5" fill="#dfe6ee" opacity="1"/>
<ellipse cx="592.3" cy="945.8" rx="1.3" ry="3.2" fill="#d9e4ec" opacity="1"/>
<path d="M429.3,880.1L431.5,886.7L433.0,893.4" fill="none" stroke="#f9cf9c" stroke-width="0.7" stroke-linejoin="round" stroke-linecap="round" opacity="0.7"/>
<path d="M431.0,880.9L433.2,886.7L434.8,894.3" fill="none" stroke="#f9cf9c" stroke-width="0.7" stroke-linejoin="round" stroke-linecap="round" opacity="0.7"/>
<path d="M432.7,880.1L434.9,886.7L436.5,895.2" fill="none" stroke="#f9cf9c" stroke-width="0.7" stroke-linejoin="round" stroke-linecap="round" opacity="0.7"/>
<path d="M434.5,880.9L436.6,886.7L438.2,893.4" fill="none" stroke="#f9cf9c" stroke-width="0.7" stroke-linejoin="round" stroke-linecap="round" opacity="0.7"/>
<path d="M436.2,880.1L438.4,886.7L439.9,894.3" fill="none" stroke="#f9cf9c" stroke-width="0.7" stroke-linejoin="round" stroke-linecap="round" opacity="0.7"/>
<path d="M437.9,880.9L440.1,886.7L441.6,895.2" fill="none" stroke="#f9cf9c" stroke-width="0.7" stroke-linejoin="round" stroke-linecap="round" opacity="0.7"/>
<path d="M439.6,880.1L441.8,886.7L443.4,893.4" fill="none" stroke="#f9cf9c" stroke-width="0.7" stroke-linejoin="round" stroke-linecap="round" opacity="0.7"/>
<path d="M431.2,875.8L437.5,875.0L446.9,873.4" fill="none" stroke="#c9a184" stroke-width="0.8" stroke-linejoin="round" stroke-linecap="round" opacity="0.7"/>
<path d="M563.5,896.1L563.5,899.4" fill="none" stroke="#fbe9d6" stroke-width="1.2" stroke-linejoin="round" stroke-linecap="round" opacity="0.9"/>
<path d="M565.7,894.4L568.1,898.6" fill="none" stroke="#fbe9d6" stroke-width="1.2" stroke-linejoin="round" stroke-linecap="round" opacity="0.9"/>
<path d="M569.8,893.6L572.8,897.8" fill="none" stroke="#fbe9d6" stroke-width="1.2" stroke-linejoin="round" stroke-linecap="round" opacity="0.9"/>
<path d="M560.7,881.2L571.5,882.0L571.8,886.1L560.7,885.8Z" fill="#f7c795" />
<ellipse cx="556.8" cy="913.6" rx="2.3" ry="1.3" fill="#c9dbe6" opacity="1"/>
<ellipse cx="574.6" cy="914.7" rx="1.6" ry="1.9" fill="#c9dbe6" opacity="1"/>
<ellipse cx="579.1" cy="917.3" rx="1.9" ry="2.0" fill="#c9dbe6" opacity="1"/>
<path d="M642.9,828.0L646.2,836.3L648.7,843.0" fill="none" stroke="#9aa9bb" stroke-width="0.7" stroke-linejoin="round" stroke-linecap="round" opacity="0.75"/>
<path d="M647.8,833.0L652.0,840.5" fill="none" stroke="#9aa9bb" stroke-width="0.7" stroke-linejoin="round" stroke-linecap="round" opacity="0.75"/>
<path d="M636.2,849.6L639.5,853.8L638.7,856.3" fill="none" stroke="#9aa9bb" stroke-width="0.7" stroke-linejoin="round" stroke-linecap="round" opacity="0.75"/>
<path d="M634.6,876.2L637.9,872.9L642.0,869.5" fill="none" stroke="#9aa9bb" stroke-width="0.7" stroke-linejoin="round" stroke-linecap="round" opacity="0.75"/>
<path d="M621.3,828.0L617.9,833.0" fill="none" stroke="#9aa9bb" stroke-width="0.7" stroke-linejoin="round" stroke-linecap="round" opacity="0.75"/>
<path d="M606.3,823.0L608.0,829.7" fill="none" stroke="#9aa9bb" stroke-width="0.7" stroke-linejoin="round" stroke-linecap="round" opacity="0.75"/>
<path d="M655.3,798.1L659.5,797.3L658.6,801.5L655.3,803.1" fill="none" stroke="#9aa9bb" stroke-width="0.7" stroke-linejoin="round" stroke-linecap="round" opacity="0.75"/>
<path d="M674.4,785.7L679.4,784.0" fill="none" stroke="#9aa9bb" stroke-width="0.7" stroke-linejoin="round" stroke-linecap="round" opacity="0.75"/>
<path d="M673.6,789.0L677.7,787.4" fill="none" stroke="#9aa9bb" stroke-width="0.7" stroke-linejoin="round" stroke-linecap="round" opacity="0.75"/>
<path d="M602.2,876.2L606.3,882.8" fill="none" stroke="#9aa9bb" stroke-width="0.7" stroke-linejoin="round" stroke-linecap="round" opacity="0.75"/>
<path d="M613.0,887.8L617.9,894.4" fill="none" stroke="#9aa9bb" stroke-width="0.7" stroke-linejoin="round" stroke-linecap="round" opacity="0.75"/>
<path d="M559.8,836.3L560.7,841.3" fill="none" stroke="#9aa9bb" stroke-width="0.7" stroke-linejoin="round" stroke-linecap="round" opacity="0.75"/>
<path d="M536.6,788.2L543.2,783.2" fill="none" stroke="#9aa9bb" stroke-width="0.7" stroke-linejoin="round" stroke-linecap="round" opacity="0.75"/>
<path d="M394.9,852.9L399.1,857.9L397.4,862.9" fill="none" stroke="#9aa9bb" stroke-width="0.7" stroke-linejoin="round" stroke-linecap="round" opacity="0.7"/>
<path d="M400.7,851.3L405.7,857.9L403.2,864.6" fill="none" stroke="#9aa9bb" stroke-width="0.7" stroke-linejoin="round" stroke-linecap="round" opacity="0.7"/>
<path d="M407.4,852.9L409.8,859.6" fill="none" stroke="#9aa9bb" stroke-width="0.7" stroke-linejoin="round" stroke-linecap="round" opacity="0.7"/>
<path d="M398.2,866.2L408.2,862.9" fill="none" stroke="#9aa9bb" stroke-width="0.7" stroke-linejoin="round" stroke-linecap="round" opacity="0.7"/>
<path d="M411.5,768.3L414.8,773.2" fill="none" stroke="#9aa9bb" stroke-width="0.7" stroke-linejoin="round" stroke-linecap="round" opacity="0.7"/>
<path d="M418.1,769.9L419.8,776.6L424.8,774.9" fill="none" stroke="#9aa9bb" stroke-width="0.7" stroke-linejoin="round" stroke-linecap="round" opacity="0.7"/>
<path d="M426.4,784.9L428.1,788.2" fill="none" stroke="#9aa9bb" stroke-width="0.7" stroke-linejoin="round" stroke-linecap="round" opacity="0.7"/>
<path d="M441.4,809.8L448.0,808.9" fill="none" stroke="#9aa9bb" stroke-width="0.7" stroke-linejoin="round" stroke-linecap="round" opacity="0.7"/>
<path d="M476.3,843.0L484.6,847.9" fill="none" stroke="#9aa9bb" stroke-width="0.7" stroke-linejoin="round" stroke-linecap="round" opacity="0.7"/>
<path d="M469.6,856.3L476.3,864.6" fill="none" stroke="#9aa9bb" stroke-width="0.7" stroke-linejoin="round" stroke-linecap="round" opacity="0.7"/>
<path d="M506.1,819.7L507.8,828.0" fill="none" stroke="#9aa9bb" stroke-width="0.7" stroke-linejoin="round" stroke-linecap="round" opacity="0.7"/>
<path d="M463.0,886.1L469.6,887.8" fill="none" stroke="#9aa9bb" stroke-width="0.7" stroke-linejoin="round" stroke-linecap="round" opacity="0.7"/>
<path d="M512.8,899.4L516.1,904.4" fill="none" stroke="#9aa9bb" stroke-width="0.7" stroke-linejoin="round" stroke-linecap="round" opacity="0.7"/>
<path d="M501.2,906.1L502.8,909.4" fill="none" stroke="#9aa9bb" stroke-width="0.7" stroke-linejoin="round" stroke-linecap="round" opacity="0.7"/>
</g>
</svg></body></html>
